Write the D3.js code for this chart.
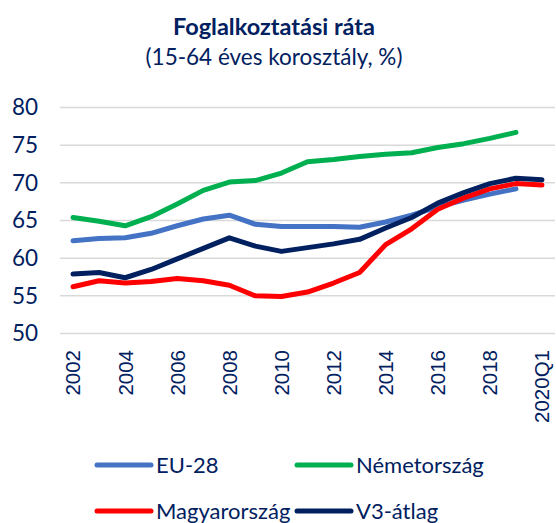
<!DOCTYPE html>
<html>
<head>
<meta charset="utf-8">
<script src="https://cdn.jsdelivr.net/npm/d3@7"></script>
<style>
  body { margin: 0; background: #fff; }
  svg { display: block; }
</style>
</head>
<body>
<div id="chart"><svg></svg></div>
<script>
// categories on the x axis
const periods = ['2002', '2003', '2004', '2005', '2006', '2007', '2008', '2009', '2010',
  '2011', '2012', '2013', '2014', '2015', '2016', '2017', '2018', '2019', '2020Q1']
const tickLabels = ['2002', '2004', '2006', '2008', '2010', '2012', '2014', '2016', '2018', '2020Q1']
const yTicks = [50, 55, 60, 65, 70, 75, 80]

// series values (null = no data)
const eu28 = [62.3, 62.6, 62.7, 63.3, 64.3, 65.2, 65.7, 64.5, 64.2, 64.2,
  64.2, 64.1, 64.8, 65.7, 66.8, 67.7, 68.5, 69.2, null]
const nemetorszag = [65.4, 64.9, 64.3, 65.5, 67.2, 69.0, 70.1, 70.3, 71.3, 72.8,
  73.1, 73.5, 73.8, 74.0, 74.7, 75.2, 75.9, 76.7, null]
const magyarorszag = [56.2, 57.0, 56.7, 56.9, 57.3, 57.0, 56.4, 55.0, 54.9, 55.5,
  56.7, 58.1, 61.8, 63.9, 66.5, 68.0, 69.2, 69.9, 69.7]
const v3atlag = [57.9, 58.1, 57.4, 58.5, 59.9, 61.3, 62.7, 61.6, 60.9, 61.4,
  61.9, 62.5, 64.0, 65.4, 67.3, 68.7, 69.9, 70.6, 70.4]

const series = [
  { name: 'EU-28', values: eu28, color: '#4472C4' },
  { name: 'Németország', values: nemetorszag, color: '#00B050' },
  { name: 'Magyarország', values: magyarorszag, color: '#FF0000' },
  { name: 'V3-átlag', values: v3atlag, color: '#002060' }
]

const width = 556
const height = 523
const textColor = '#002060'
const font = 'Lato, Calibri, sans-serif'

const svg = d3.select('#chart').select('svg')
  .attr('width', width)
  .attr('height', height)

const x = d3.scaleBand()
  .domain(periods)
  .range([60, 555])

const y = d3.scaleLinear()
  .domain([50, 80])
  .range([333.5, 107.5])

// title
svg.append('text')
  .attr('x', 274)
  .attr('y', 35)
  .attr('text-anchor', 'middle')
  .attr('font-family', font)
  .attr('font-weight', 'bold')
  .attr('font-size', 23.5)
  .attr('fill', textColor)
  .text('Foglalkoztatási ráta')

svg.append('text')
  .attr('x', 274)
  .attr('y', 65)
  .attr('text-anchor', 'middle')
  .attr('font-family', font)
  .attr('font-size', 22.5)
  .attr('fill', textColor)
  .text('(15-64 éves korosztály, %)')

// gridlines
svg.append('g')
  .selectAll('line')
  .data(yTicks)
  .enter()
  .append('line')
  .attr('x1', 60)
  .attr('x2', 555)
  .attr('y1', (d) => y(d))
  .attr('y2', (d) => y(d))
  .attr('stroke', '#d9d9d9')
  .attr('stroke-width', 1.5)

// y axis labels
const yAxis = d3.axisLeft(y).tickValues(yTicks).tickSize(0).tickPadding(0)
svg.append('g')
  .attr('class', 'y axis')
  .attr('transform', 'translate(38,0)')
  .call(yAxis)
  .call((g) => g.select('.domain').remove())
  .selectAll('text')
  .attr('font-family', font)
  .attr('font-size', 22.5)
  .attr('fill', textColor)

// x axis labels
const xAxis = d3.axisBottom(x).tickValues(tickLabels).tickSize(0).tickPadding(0)
svg.append('g')
  .attr('class', 'x axis')
  .attr('transform', 'translate(0,350)')
  .call(xAxis)
  .call((g) => g.select('.domain').remove())
  .selectAll('text')
  .attr('font-family', 'Liberation Sans, Arial, sans-serif')
  .attr('font-size', 20.5)
  .attr('fill', textColor)
  .attr('text-anchor', 'end')
  .attr('transform', 'rotate(-90)')
  .attr('x', 0)
  .attr('y', 0)
  .attr('dy', '0.36em')

// lines
const line = d3.line()
  .defined((d) => d != null)
  .x((d, i) => x(periods[i]) + x.bandwidth() / 2)
  .y((d) => y(d))

svg.append('g')
  .selectAll('path')
  .data(series)
  .enter()
  .append('path')
  .attr('d', (d) => line(d.values))
  .attr('fill', 'none')
  .attr('stroke', (d) => d.color)
  .attr('stroke-width', 5)
  .attr('stroke-linejoin', 'round')
  .attr('stroke-linecap', 'round')

// legend
const legendPos = [
  { x: 97, y: 465 },
  { x: 297, y: 465 },
  { x: 97, y: 511 },
  { x: 297, y: 511 }
]
const legend = svg.append('g')
  .selectAll('g')
  .data(series)
  .enter()
  .append('g')
  .attr('transform', (d, i) => 'translate(' + legendPos[i].x + ',' + legendPos[i].y + ')')

legend.append('line')
  .attr('x1', 0)
  .attr('x2', 54)
  .attr('stroke', (d) => d.color)
  .attr('stroke-width', 5)
  .attr('stroke-linecap', 'round')

legend.append('text')
  .attr('x', 59)
  .attr('dy', '0.35em')
  .attr('font-family', font)
  .attr('font-size', 22)
  .attr('fill', textColor)
  .text((d) => d.name)
</script>
</body>
</html>
